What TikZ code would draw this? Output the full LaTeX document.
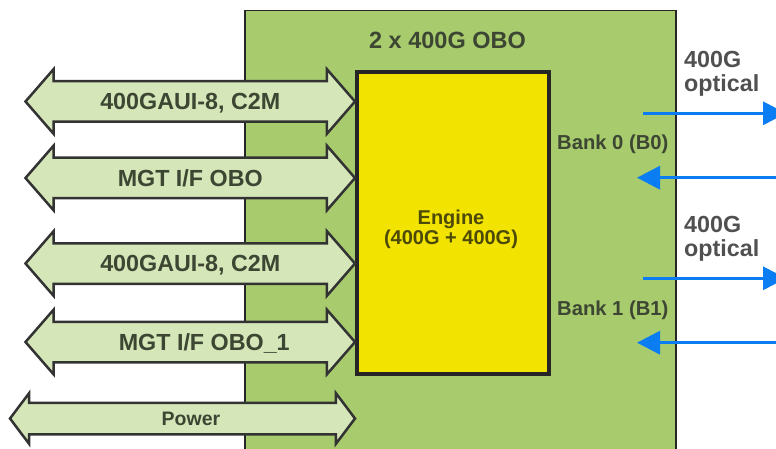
\documentclass[tikz,border=0pt]{standalone}
\usepackage{fontspec}
\setmainfont{Liberation Sans}
\usetikzlibrary{shapes.arrows,arrows.meta}

\definecolor{oboGreen}{HTML}{A8CB6E}
\definecolor{busFill}{HTML}{D5E6B8}
\definecolor{busLine}{HTML}{333333}
\definecolor{lblText}{HTML}{3C4632}
\definecolor{engFill}{HTML}{F2E300}
\definecolor{engText}{HTML}{4D4A08}
\definecolor{optBlue}{HTML}{0B7DF2}
\definecolor{optText}{HTML}{505050}

\tikzset{
  bus/.style={shape=double arrow, draw=busLine, fill=busFill, line width=2.5pt,
    double arrow head extend=12pt, double arrow tip angle=98, double arrow head indent=0pt,
    minimum height=329.5pt, inner xsep=2pt, inner ysep=0pt,
    text height=27.35pt, text depth=10.65pt, text=lblText,
    font=\fontsize{23.3}{24}\selectfont\bfseries},
  pwrbus/.style={bus, double arrow head extend=9.5pt, double arrow tip angle=106,
    minimum height=345pt, text height=21.5pt, text depth=7.5pt,
    font=\fontsize{19.5}{20}\selectfont\bfseries},
  optic/.style={draw=optBlue, line width=3.3pt, -{Triangle[length=23pt,width=23pt,fill=optBlue]}},
  banklbl/.style={anchor=base west, text=lblText, inner sep=0pt,
    font=\fontsize{20.2}{21}\selectfont\bfseries},
  optlbl/.style={anchor=base west, align=left, text=optText, inner sep=0pt,
    font=\fontsize{23.3}{24}\selectfont\bfseries}
}

\begin{document}
\begin{tikzpicture}[x=1pt, y=-1pt]

\useasboundingbox (0,0) rectangle (776,449);
\clip (0,0) rectangle (776,449);

% ── OBO module and engine ───────────────────────────────────
\node[draw=black!85, line width=1.5pt, fill=oboGreen, anchor=north west,
      minimum width=431pt, minimum height=470pt] (obo) at (244,10) {};
\node[text=lblText, font=\fontsize{23.5}{24}\selectfont\bfseries] (title) at (447.5,40) {2 x 400G OBO};

\node[draw=black!85, line width=4pt, fill=engFill, anchor=north west,
      minimum width=192pt, minimum height=302pt] (engine) at (355,70) {};
\node[align=center, text=engText, font=\fontsize{20}{20}\selectfont\bfseries]
      (englbl) at (451,229) {Engine\\(400G + 400G)};

% ── electrical interfaces (left) ────────────────────────────
\foreach \ypos/\txt/\nm in {101.5/{400GAUI-8, C2M}/a, 178/{MGT I/F OBO}/b,
                            263.5/{400GAUI-8, C2M}/c, 342/{\hspace*{28pt}MGT I/F OBO\_1}/d} {
    \node[bus] (bus\nm) at (190.25,\ypos) {\txt};
}
\node[pwrbus] (power) at (182.5,418.5) {\hspace*{17pt}Power};

% ── optical side (right) ────────────────────────────────────
\node[banklbl] (bank0) at (557,149.3) {Bank 0 (B0)};
\node[banklbl] (bank1) at (557,315.7) {Bank 1 (B1)};

% base anchor sits on the last line here
\node[optlbl] (opt0) at (684,91.5) {400G\\optical};
\node[optlbl] (opt1) at (684,256) {400G\\optical};

% Bank 0: tx out, rx in
\coordinate (b0tx) at (643,113.3);  \coordinate (b0txe) at (786,113.3);
\coordinate (b0rx) at (637,177.7);  \coordinate (b0rxs) at (800,177.7);
\draw[optic] (b0tx) -- (b0txe);
\draw[optic] (b0rxs) -- (b0rx);

% Bank 1: tx out, rx in
\coordinate (b1tx) at (643,278.3);  \coordinate (b1txe) at (786,278.3);
\coordinate (b1rx) at (637,342.7);  \coordinate (b1rxs) at (800,342.7);
\draw[optic] (b1tx) -- (b1txe);
\draw[optic] (b1rxs) -- (b1rx);

\end{tikzpicture}
\end{document}
